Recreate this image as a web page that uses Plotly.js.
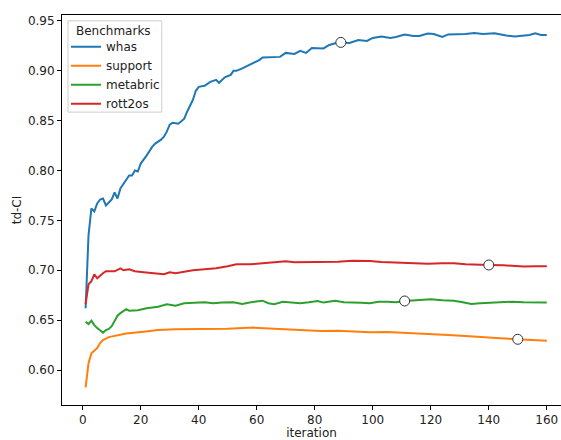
<!DOCTYPE html>
<html>
<head>
<meta charset="utf-8">
<script src="https://cdn.plot.ly/plotly-3.0.1.min.js"></script>
<style>html,body{margin:0;padding:0;background:#fff;}#chart{width:561px;height:440px;}</style>
</head>
<body>
<div id="chart"></div>
<script>
const seriesNames = ["whas", "support", "metabric", "rott2os"];
const seriesColors = ["#1f77b4", "#ff7f0e", "#2ca02c", "#d62728"];
const legendTitle = "Benchmarks";

const whasX = [1,2,3,4,5,6,7,8,9,10,11,12,13,16,17,18,19,20,22,24,25,27,28,29,30,31,33,35,36,38,39,40,42,44,46,47,49,51,52,53,55,56,59,61,62,67,68,70,73,75,77,79,81,83,85,88,89,92,95,98,100,103,106,108,111,114,116,119,121,124,126,129,132,135,138,142,144,146,149,152,154,156,158,160];
const whasY = [0.662,0.735,0.762,0.759,0.767,0.771,0.772,0.765,0.768,0.771,0.778,0.772,0.782,0.795,0.795,0.800,0.799,0.807,0.815,0.824,0.827,0.831,0.834,0.839,0.846,0.848,0.847,0.852,0.859,0.871,0.880,0.884,0.885,0.889,0.891,0.888,0.8935,0.896,0.900,0.900,0.9025,0.904,0.908,0.911,0.9135,0.9135,0.914,0.918,0.917,0.920,0.918,0.923,0.9225,0.9225,0.926,0.9285,0.9285,0.928,0.931,0.930,0.933,0.9345,0.933,0.934,0.9365,0.935,0.935,0.9375,0.937,0.934,0.9365,0.9365,0.937,0.938,0.937,0.9377,0.9365,0.9355,0.9345,0.9355,0.936,0.9377,0.936,0.936];

const supportX = [1,2,3,4,5,6,7,9,12,15,21,26,32,40,50,59,65,70,76,82,88,93,99,105,114,120,126,132,137,144,150,155,160];
const supportY = [0.5826,0.6067,0.6167,0.6194,0.622,0.627,0.630,0.633,0.635,0.6367,0.6384,0.640,0.6408,0.6408,0.6414,0.6425,0.6418,0.6411,0.640,0.6391,0.6394,0.6384,0.6378,0.638,0.637,0.6362,0.635,0.634,0.6328,0.6318,0.6308,0.630,0.6294];

const metabricX = [1,2,3,4,5,6,7,8,9,10,11,12,13,15,16,19,22,26,29,32,35,39,42,45,48,52,55,58,62,64,66,69,72,75,78,81,83,87,90,93,96,99,102,105,108,111,115,120,124,128,131,134,137,140,144,148,152,156,160];
const metabricY = [0.6485,0.646,0.6495,0.645,0.642,0.6395,0.6374,0.640,0.6412,0.644,0.650,0.6545,0.657,0.661,0.6595,0.660,0.662,0.6635,0.6659,0.6645,0.667,0.6676,0.668,0.667,0.6678,0.668,0.6662,0.668,0.6695,0.667,0.666,0.6685,0.668,0.667,0.668,0.6692,0.6676,0.6695,0.668,0.668,0.6675,0.667,0.6685,0.6685,0.668,0.6692,0.670,0.6709,0.670,0.6695,0.668,0.6662,0.667,0.6676,0.668,0.6685,0.668,0.668,0.6676];

const rott2osX = [1,2,3,4,5,6,7,8,11,13,14,16,18,21,24,28,30,32,36,38,42,46,50,53,58,63,67,70,73,77,82,88,93,96,99,103,107,113,119,124,128,132,137,140,145,149,152,156,160];
const rott2osY = [0.666,0.686,0.689,0.696,0.692,0.695,0.697,0.699,0.699,0.702,0.700,0.701,0.699,0.698,0.697,0.696,0.698,0.697,0.699,0.700,0.701,0.702,0.704,0.706,0.706,0.707,0.7078,0.709,0.708,0.708,0.7086,0.7086,0.7096,0.7096,0.7093,0.7083,0.708,0.707,0.7065,0.707,0.707,0.706,0.706,0.7053,0.705,0.7043,0.7038,0.704,0.704];

// iteration of the highlighted (circled) point on each series
const bestIter = [89, 150, 111, 140];

const xTicks = [0, 20, 40, 60, 80, 100, 120, 140, 160];
const yTicks = [0.60, 0.65, 0.70, 0.75, 0.80, 0.85, 0.90, 0.95];

const xs = [whasX, supportX, metabricX, rott2osX];
const ys = [whasY, supportY, metabricY, rott2osY];

const traces = [];
for (let i = 0; i < 4; i++) {
  traces.push({
    type: "scatter", mode: "lines", name: seriesNames[i],
    x: xs[i], y: ys[i],
    line: {color: seriesColors[i], width: 2},
    hoverinfo: "skip"
  });
}
const mx = [], my = [];
for (let i = 0; i < 4; i++) {
  const k = xs[i].indexOf(bestIter[i]);
  mx.push(xs[i][k]); my.push(ys[i][k]);
}
traces.push({
  type: "scatter", mode: "markers", x: mx, y: my, showlegend: false,
  marker: {size: 10, color: "#ffffff", line: {color: "#333333", width: 1}},
  hoverinfo: "skip"
});

const font = {family: "DejaVu Sans, sans-serif", size: 12, color: "#222"};
const layout = {
  width: 561, height: 440,
  margin: {l: 62, r: 0, t: 15, b: 35, pad: 0},
  paper_bgcolor: "#fff", plot_bgcolor: "#fff",
  font: font,
  showlegend: true,
  xaxis: {
    range: [-7.14, 164.9], tickvals: xTicks, ticktext: xTicks.map(String),
    showgrid: false, zeroline: false, showline: true, linecolor: "#000", linewidth: 1,
    mirror: true, ticks: "outside", ticklen: 4, tickcolor: "#000",
    title: {text: "iteration", font: font, standoff: 1},
    automargin: false
  },
  yaxis: {
    range: [0.5649, 0.956], tickvals: yTicks, ticktext: yTicks.map(v => v.toFixed(2)),
    showgrid: false, zeroline: false, showline: true, linecolor: "#000", linewidth: 1,
    mirror: false, ticks: "outside", ticklen: 4, tickcolor: "#000",
    title: {text: "td-CI", font: font, standoff: 3},
    automargin: false
  },
  shapes: [{
    type: "rect", xref: "paper", yref: "paper",
    x0: 0.012, x1: 0.2, y0: 0.751, y1: 0.985,
    line: {color: "#cccccc", width: 1}, fillcolor: "rgba(255,255,255,0.8)", layer: "above"
  }],
  annotations: [{
    text: legendTitle, xref: "paper", yref: "paper", x: 0.104, y: 0.959,
    xanchor: "center", yanchor: "middle", showarrow: false, font: font
  }],
  legend: {
    x: 0.008, y: 0.956, xanchor: "left", yanchor: "top",
    bgcolor: "rgba(0,0,0,0)", borderwidth: 0,
    font: font, itemwidth: 30, tracegroupgap: 0
  }
};
Plotly.newPlot("chart", traces, layout, {displayModeBar: false, staticPlot: true});
</script>
</body>
</html>
